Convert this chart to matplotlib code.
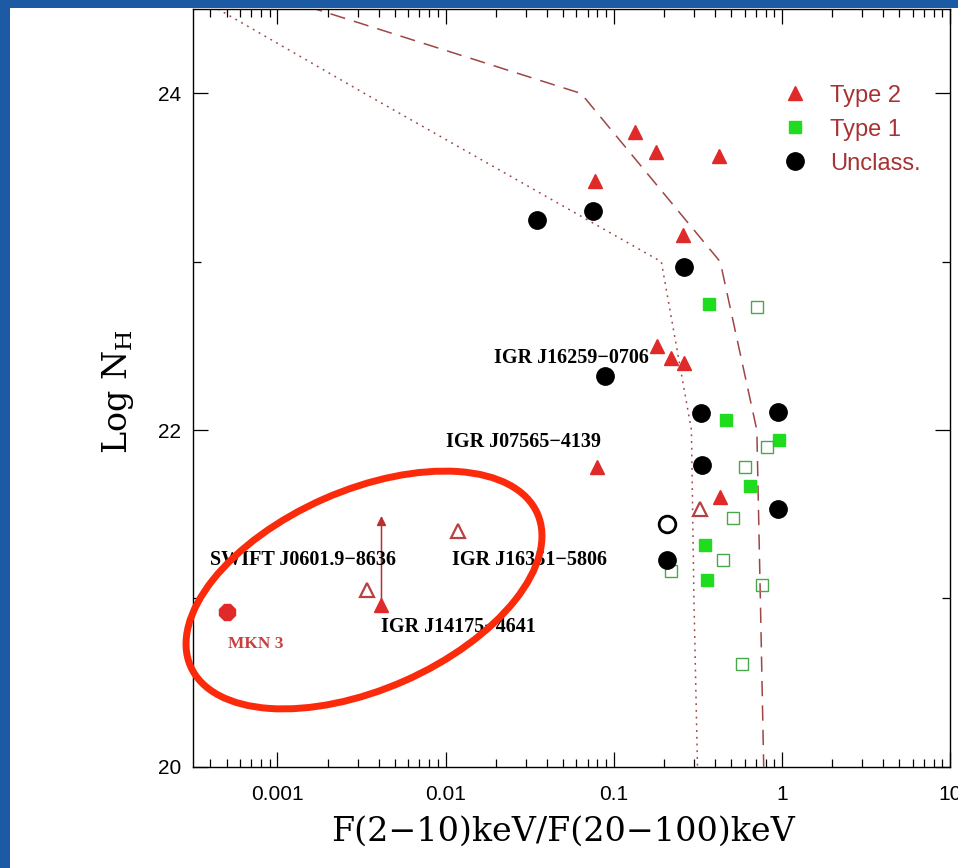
import numpy as np
import matplotlib
matplotlib.use('Agg')
import matplotlib.pyplot as plt
from matplotlib.lines import Line2D
from matplotlib.patches import Rectangle, Ellipse
from matplotlib.ticker import FixedLocator, FuncFormatter, LogLocator, MultipleLocator

plt.rcParams['font.family'] = ['Liberation Sans', 'DejaVu Sans']
plt.rcParams['mathtext.fontset'] = 'dejavuserif'

# --- data: x = F(2-10)/F(20-100), y = log NH ---
type2_x = [0.133, 0.178, 0.421, 0.077, 0.259, 0.182, 0.219, 0.263, 0.080, 0.428, 0.00416]
type2_y = [23.77, 23.65, 23.63, 23.48, 23.16, 22.50, 22.43, 22.40, 21.78, 21.60, 20.96]
type2_open_x = [0.327, 0.0119, 0.00342]
type2_open_y = [21.53, 21.40, 21.05]

type1_x = [0.370, 0.467, 0.968, 0.647, 0.349, 0.361]
type1_y = [22.75, 22.06, 21.94, 21.67, 21.32, 21.11]
type1_open_x = [0.714, 0.814, 0.602, 0.515, 0.445, 0.219, 0.757, 0.576]
type1_open_y = [22.73, 21.90, 21.78, 21.48, 21.23, 21.16, 21.08, 20.61]

unclass_x = [0.0349, 0.0752, 0.263, 0.0892, 0.332, 0.946, 0.335, 0.955, 0.208]
unclass_y = [23.25, 23.30, 22.97, 22.32, 22.10, 22.11, 21.79, 21.53, 21.23]
unclass_open_x = [0.208]
unclass_open_y = [21.44]

mkn3_x = [0.000503]
mkn3_y = [20.92]

# lower limit arrow on IGR J14175-4641
arrow_x = 0.00416
arrow_y = [20.96, 21.49]

# model curves
dashed_x = [0.0004, 0.064, 0.43, 0.71, 0.745, 0.78]
dashed_y = [24.7, 24.0, 23.0, 22.0, 21.0, 20.0]
dotted_x = [0.0002, 0.0033, 0.192, 0.29, 0.30, 0.315]
dotted_y = [24.7, 24.0, 23.0, 22.0, 21.0, 20.0]

# source names: (text, x, y, alignment)
names = [
    ('IGR J16259\u22120706', 0.161, 22.43, 'right'),
    ('IGR J07565\u22124139', 0.0100, 21.93, 'left'),
    ('IGR J16351\u22125806', 0.0110, 21.23, 'left'),
    ('SWIFT J0601.9\u22128636', 0.000398, 21.23, 'left'),
    ('IGR J14175\u22124641', 0.00412, 20.83, 'left'),
]

RED = '#e02a2a'
GREEN = '#1fdc1f'
LINE = '#a04545'

fig = plt.figure(figsize=(9.58, 8.68), dpi=100, facecolor='#1c5ba3')
fig.patches.append(Rectangle((10 / 958, 0), 948 / 958, 860 / 868,
                             transform=fig.transFigure, facecolor='white',
                             edgecolor='none', zorder=-1))

ax = fig.add_axes([193.3 / 958, 101.3 / 868, 756.7 / 958, 757.4 / 868])
ax.set_xscale('log')
ax.set_xlim(10 ** -3.5, 10)
ax.set_ylim(20, 24.5)

ax.plot(dashed_x, dashed_y, color=LINE, lw=1.1, dashes=(10, 6), zorder=1)
ax.plot(dotted_x, dotted_y, color=LINE, lw=1.1, dashes=(1.2, 3.2), zorder=1)

ax.plot(type2_x, type2_y, ls='none', marker='^', ms=10, color=RED, zorder=3)
ax.plot(type2_open_x, type2_open_y, ls='none', marker='^', ms=10, mfc='none',
        mec='#b84040', mew=1.6, zorder=3)
ax.plot(type1_x, type1_y, ls='none', marker='s', ms=9, color=GREEN, zorder=3)
ax.plot(type1_open_x, type1_open_y, ls='none', marker='s', ms=9, mfc='none',
        mec='#4aa84a', mew=1.0, zorder=3)
ax.plot(unclass_x, unclass_y, ls='none', marker='o', ms=12.5, color='black', zorder=3)
ax.plot(unclass_open_x, unclass_open_y, ls='none', marker='o', ms=12, mfc='none',
        mec='black', mew=2, zorder=3)
ax.plot(mkn3_x, mkn3_y, ls='none', marker='8', ms=12, color=RED, zorder=3)

ax.annotate('', xy=(arrow_x, arrow_y[1]), xytext=(arrow_x, arrow_y[0]),
            arrowprops=dict(arrowstyle='-|>', color='#b83030', lw=1.1,
                            mutation_scale=14, shrinkA=0, shrinkB=0), zorder=2)

for txt, x, y, ha in names:
    ax.text(x, y, txt, ha=ha, va='center', fontsize=14.5, fontweight='bold',
            family='Liberation Serif', color='black', zorder=4)
ax.text(0.000508, 20.73, 'MKN 3', ha='left', va='center', fontsize=12.5,
        fontweight='bold', family='Liberation Serif', color='#c84040', zorder=4)

# axes cosmetics
ax.xaxis.set_major_locator(FixedLocator([1e-3, 1e-2, 1e-1, 1, 10]))
ax.xaxis.set_major_formatter(FuncFormatter(lambda v, p: f'{v:g}'))
ax.xaxis.set_minor_locator(LogLocator(base=10, subs=np.arange(2, 10), numticks=20))
ax.yaxis.set_major_locator(MultipleLocator(2))
ax.yaxis.set_minor_locator(MultipleLocator(1))
ax.tick_params(which='both', direction='in', top=True, right=True, width=0.9)
ax.tick_params(which='major', length=11, labelsize=15)
ax.tick_params(which='minor', length=5.5)
ax.tick_params(axis='x', which='major', pad=13)
ax.tick_params(axis='y', which='major', pad=9)
for s in ax.spines.values():
    s.set_linewidth(1.0)

ax.set_xlabel('F(2\u221210)keV/F(20\u2212100)keV', family='DejaVu Serif',
              fontsize=24, va='center')
ax.xaxis.set_label_coords(0.489, -0.086)
ax.set_ylabel('Log N$_{\\rm H}$', family='DejaVu Serif', fontsize=24, va='center')
ax.yaxis.set_label_coords(-0.0995, 0.495)

handles = [
    Line2D([], [], ls='none', marker='^', ms=10, color=RED),
    Line2D([], [], ls='none', marker='s', ms=9, color=GREEN),
    Line2D([], [], ls='none', marker='o', ms=12.5, color='black'),
]
ax.legend(handles, ['Type 2', 'Type 1', 'Unclass.'], loc='upper left',
          bbox_to_anchor=(0.779, 0.9005), frameon=False, fontsize=17,
          labelcolor='#a83232', handlelength=1.0, handletextpad=1.0,
          labelspacing=0.51, borderpad=0, borderaxespad=0, numpoints=1)

# red highlight ellipse drawn over the slide
ov = fig.add_axes([0, 0, 1, 1], zorder=5)
ov.set_xlim(0, 958)
ov.set_ylim(0, 868)
ov.axis('off')
ov.add_patch(Ellipse((364, 278), 379, 199, angle=23.8, fill=False,
                     edgecolor='#fa2a0a', lw=5))

fig.savefig('out.png', dpi=100, facecolor=fig.get_facecolor())
